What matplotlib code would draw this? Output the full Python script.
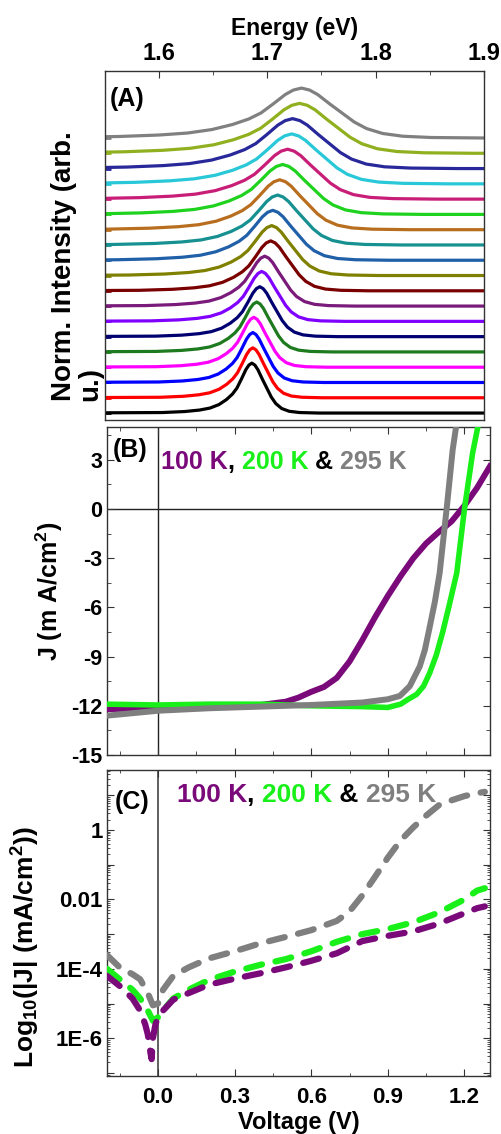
import numpy as np
import matplotlib
matplotlib.use('Agg')
import matplotlib.pyplot as plt
from matplotlib.ticker import MultipleLocator, FixedLocator, FixedFormatter, LogLocator, NullFormatter

plt.rcParams['font.family'] = ['Liberation Sans', 'DejaVu Sans']
plt.rcParams['font.weight'] = 'bold'
plt.rcParams['axes.unicode_minus'] = False
plt.rcParams['mathtext.default'] = 'regular'

# ---- (A) PL spectra, bottom -> top ----
pl_colors = ['#000000', '#ff0000', '#0000ff', '#ff00ff', '#1e7a1e', '#000070',
             '#8000ff', '#7a1a7a', '#7a0000', '#808000', '#2060a8', '#169090',
             '#b86e1e', '#1ed21e', '#c81e78', '#28c8d8', '#28289a', '#90b020', '#808080']
pl_peak = [1.6857, 1.6866, 1.6866, 1.6875, 1.6902, 1.6930, 1.6948, 1.6976, 1.7031, 1.7040,
           1.7050, 1.7095, 1.7114, 1.7141, 1.7187, 1.7224, 1.7233, 1.7297, 1.7315]
pl_hwhm = [0.0138, 0.0142, 0.0145, 0.0150, 0.0155, 0.0160, 0.0170, 0.0184, 0.0202, 0.0220,
           0.0239, 0.0253, 0.0267, 0.0290, 0.0304, 0.0322, 0.0340, 0.0360, 0.0375]
# measured line shape (offset in HWHM units, normalised intensity)
shape_u = [-6, -4.5, -3.5, -2.8, -2.2, -1.7, -1.3, -1.0, -0.7, -0.4, -0.2, 0,
           0.2, 0.4, 0.7, 1.0, 1.3, 1.6, 2.0, 2.5, 3.2, 4.5]
shape_v = [0.01, 0.03, 0.06, 0.10, 0.17, 0.27, 0.38, 0.5, 0.68, 0.87, 0.96, 1.0,
           0.96, 0.87, 0.68, 0.5, 0.32, 0.19, 0.09, 0.035, 0.01, 0.0]
pl_step = 0.306

# ---- (B) J-V curves ----
v_100 = [-0.2, 0.0, 0.2, 0.4, 0.5, 0.55, 0.6, 0.65, 0.7, 0.75, 0.8, 0.85, 0.9, 0.95,
         1.0, 1.05, 1.1, 1.15, 1.2, 1.25, 1.3]
j_100 = [-12.2, -12.15, -12.05, -11.95, -11.75, -11.5, -11.15, -10.85, -10.3, -9.3, -8.0,
         -6.6, -5.3, -4.1, -3.0, -2.1, -1.4, -0.75, 0.2, 1.3, 2.6]
v_200 = [-0.2, 0.0, 0.2, 0.4, 0.6, 0.8, 0.9, 0.95, 0.98, 1.013, 1.04, 1.064, 1.09, 1.115,
         1.14, 1.17, 1.201, 1.232, 1.255]
j_200 = [-11.9, -11.95, -11.9, -11.9, -12.0, -12.05, -12.1, -11.9, -11.6, -11.3, -10.8,
         -10.0, -8.9, -7.5, -5.9, -3.9, 0.1, 3.4, 5.2]
v_295 = [-0.2, -0.1, 0.0, 0.2, 0.4, 0.6, 0.8, 0.9, 0.947, 0.986, 1.025, 1.045, 1.064, 1.085,
         1.103, 1.131, 1.154, 1.172]
j_295 = [-12.6, -12.45, -12.3, -12.15, -12.05, -11.95, -11.8, -11.6, -11.4, -10.8, -9.6,
         -8.6, -7.2, -5.6, -3.9, 0.1, 3.6, 5.5]

# ---- (C) log|J| vs V ----
vl_100 = [-0.2, -0.15, -0.1, -0.07, -0.05, -0.04, -0.03, -0.025, -0.02, -0.01, 0.0, 0.02,
          0.06, 0.12, 0.2, 0.3, 0.4, 0.5, 0.6, 0.7, 0.8, 0.9, 1.0, 1.1, 1.2, 1.25, 1.28]
jl_100 = [6.3e-5, 3.2e-5, 1.4e-5, 6.3e-6, 2.5e-6, 1.3e-6, 4.0e-7, 2.5e-7, 1.0e-6, 2.5e-6,
          4.0e-6, 6.3e-6, 1.3e-5, 2.0e-5, 3.5e-5, 5.2e-5, 7.4e-5, 1.1e-4, 1.7e-4, 2.8e-4,
          6.3e-4, 8.9e-4, 1.2e-3, 2.0e-3, 4.0e-3, 5.6e-3, 6.3e-3]
vl_200 = [-0.2, -0.15, -0.1, -0.07, -0.04, -0.02, 0.0, 0.02, 0.06, 0.12, 0.2, 0.3, 0.4,
          0.5, 0.6, 0.7, 0.8, 0.9, 1.0, 1.1, 1.2, 1.25, 1.28]
jl_200 = [1.0e-4, 5.0e-5, 2.5e-5, 1.4e-5, 6.3e-6, 3.2e-6, 4.0e-6, 6.3e-6, 1.4e-5, 2.5e-5,
          4.8e-5, 8.3e-5, 1.3e-4, 1.9e-4, 3.2e-4, 6.0e-4, 1.0e-3, 1.4e-3, 2.2e-3, 4.2e-3,
          1.0e-2, 1.8e-2, 2.1e-2]
vl_295 = [-0.2, -0.15, -0.1, -0.07, -0.04, -0.02, 0.0, 0.02, 0.06, 0.12, 0.2, 0.3, 0.4,
          0.5, 0.6, 0.7, 0.75, 0.8, 0.85, 0.9, 0.95, 1.0, 1.05, 1.1, 1.15, 1.2, 1.25, 1.28]
jl_295 = [2.5e-4, 1.1e-4, 7.0e-5, 5.0e-5, 2.0e-5, 8.9e-6, 1.0e-5, 2.5e-5, 6.3e-5, 1.1e-4,
          2.0e-4, 3.2e-4, 5.4e-4, 8.3e-4, 1.3e-3, 2.4e-3, 4.5e-3, 1.3e-2, 4.5e-2, 0.16,
          0.5, 1.2, 2.6, 5.2, 7.2, 9.5, 11.5, 12.6]

c100, c200, c295 = '#7a0a7a', '#19f019', '#7f7f7f'

fig = plt.figure(figsize=(5.02, 11.34), dpi=100)
axA = fig.add_axes([0.209, 0.6296, 0.755, 0.3078])
axB = fig.add_axes([0.213, 0.3342, 0.763, 0.2893])
axC = fig.add_axes([0.213, 0.0511, 0.763, 0.2699])

for ax in (axA, axB, axC):
    for s in ax.spines.values():
        s.set_color('#333333')
        s.set_linewidth(1.0)

# ---------- panel A ----------
for i in range(len(pl_peak)):
    base = i * pl_step
    xs = [1.50] + [pl_peak[i] + u * pl_hwhm[i] for u in shape_u] + [1.95]
    ys = [base] + [base + v for v in shape_v] + [base]
    axA.plot(xs, ys, color=pl_colors[i], lw=2.3, solid_joinstyle='round')
axA.set_xlim(1.55, 1.9)
axA.set_ylim(-0.14, 6.85)
axA.xaxis.tick_top()
axA.xaxis.set_label_position('top')
axA.xaxis.set_major_locator(FixedLocator([1.6, 1.7, 1.8, 1.9]))
axA.xaxis.set_major_formatter(FixedFormatter(['1.6', '1.7', '1.8', '1.9']))
axA.xaxis.set_minor_locator(MultipleLocator(0.05))
axA.tick_params(axis='x', which='both', direction='in', labelsize=17, pad=4, colors='#333333',
                labelcolor='black')
axA.tick_params(axis='x', which='major', length=5)
axA.tick_params(axis='x', which='minor', length=3)
axA.set_xlabel('Energy (eV)', fontsize=16.5, fontweight='bold', labelpad=5)
axA.set_yticks([i * pl_step for i in range(len(pl_peak))])
axA.tick_params(axis='y', direction='in', length=4, width=2, labelleft=False)
for tk, c in zip(axA.yaxis.get_major_ticks(), pl_colors):
    tk.tick1line.set_markeredgecolor(c)
axA.set_ylabel('Norm. Intensity (arb.\nu.)', fontsize=20, fontweight='bold',
               multialignment='left', linespacing=1.0)
axA.yaxis.set_label_coords(-0.005, 0.44)
axA.text(0.013, 0.92, '(A)', transform=axA.transAxes, fontsize=18, fontweight='bold',
         ha='left', va='center')

# ---------- panel B ----------
axB.axhline(0, color='#222222', lw=1.0, zorder=1)
axB.axvline(0, color='#222222', lw=1.0, zorder=1)
axB.plot(v_100, j_100, color=c100, lw=4.3, zorder=3)
axB.plot(v_200, j_200, color=c200, lw=4.0, zorder=3)
axB.plot(v_295, j_295, color=c295, lw=4.3, zorder=4)
axB.set_xlim(-0.2, 1.3)
axB.set_ylim(-15, 5)
axB.xaxis.set_major_locator(MultipleLocator(0.3))
axB.xaxis.set_minor_locator(MultipleLocator(0.15))
axB.yaxis.set_major_locator(FixedLocator([-15, -12, -9, -6, -3, 0, 3]))
axB.yaxis.set_minor_locator(MultipleLocator(1.5))
axB.yaxis.set_major_formatter(FixedFormatter(['-15', '-12', '-9', '-6', '-3', '0', '3']))
axB.tick_params(which='both', direction='in', top=True, right=True, labelbottom=False,
                labelsize=15.5, colors='#333333', labelcolor='black')
axB.tick_params(which='major', length=5)
axB.tick_params(which='minor', length=3)
axB.set_ylabel(r'J (m A/cm$^2$)', fontsize=18, fontweight='bold')
axB.yaxis.set_label_coords(-0.11, 0.5)
axB.text(0.016, 0.93, '(B)', transform=axB.transAxes, fontsize=18, fontweight='bold',
         ha='left', va='center')


def temp_label(ax, x, y, size):
    parts = [('100 K', c100), (', ', 'black'), ('200 K', c200), (' & ', 'black'), ('295 K', c295)]
    t = ax.text(x, y, parts[0][0], transform=ax.transAxes, color=parts[0][1],
                fontsize=size, fontweight='bold', ha='left', va='center')
    for txt, col in parts[1:]:
        t = ax.annotate(txt, xy=(1, 0), xycoords=t, color=col, fontsize=size,
                        fontweight='bold', ha='left', va='bottom')


temp_label(axB, 0.141, 0.893, 18)

# ---------- panel C ----------
axC.axvline(0, color='#444444', lw=1.2, zorder=1)
dash = (0, (2.6, 2.2))
axC.plot(vl_295, jl_295, color=c295, lw=4.5, ls=dash, dash_capstyle='round', zorder=3)
axC.plot(vl_200, jl_200, color=c200, lw=4.5, ls=dash, dash_capstyle='round', zorder=3)
axC.plot(vl_100, jl_100, color=c100, lw=4.5, ls=dash, dash_capstyle='round', zorder=4)
axC.set_yscale('log')
axC.set_xlim(-0.2, 1.3)
axC.set_ylim(10 ** -7.09, 10 ** 1.73)
axC.xaxis.set_major_locator(FixedLocator([0.0, 0.3, 0.6, 0.9, 1.2]))
axC.xaxis.set_major_formatter(FixedFormatter(['0.0', '0.3', '0.6', '0.9', '1.2']))
axC.xaxis.set_minor_locator(MultipleLocator(0.15))
decades = [1e-7, 1e-6, 1e-5, 1e-4, 1e-3, 1e-2, 1e-1, 1, 10]
dec_labels = ['', '1E-6', '', '1E-4', '', '0.01', '', '1', '']
axC.yaxis.set_major_locator(FixedLocator(decades))
axC.yaxis.set_major_formatter(FixedFormatter(dec_labels))
axC.yaxis.set_minor_locator(LogLocator(base=10, subs=np.arange(2, 10), numticks=20))
axC.yaxis.set_minor_formatter(NullFormatter())
axC.tick_params(which='both', direction='in', top=True, right=True, labelsize=16,
                colors='#333333', labelcolor='black', pad=8)
axC.tick_params(which='major', length=5)
axC.tick_params(which='minor', length=2.5)
axC.tick_params(axis='y', pad=3)
axC.set_xlabel('Voltage (V)', fontsize=17, fontweight='bold', labelpad=2)
axC.set_ylabel(r'Log$_{10}$(|J| (mA/cm$^2$))', fontsize=19, fontweight='bold')
axC.yaxis.set_label_coords(-0.17, 0.42)
axC.text(0.021, 0.895, '(C)', transform=axC.transAxes, fontsize=18, fontweight='bold',
         ha='left', va='center')
temp_label(axC, 0.183, 0.918, 19)

fig.savefig('out.png', dpi=100)
